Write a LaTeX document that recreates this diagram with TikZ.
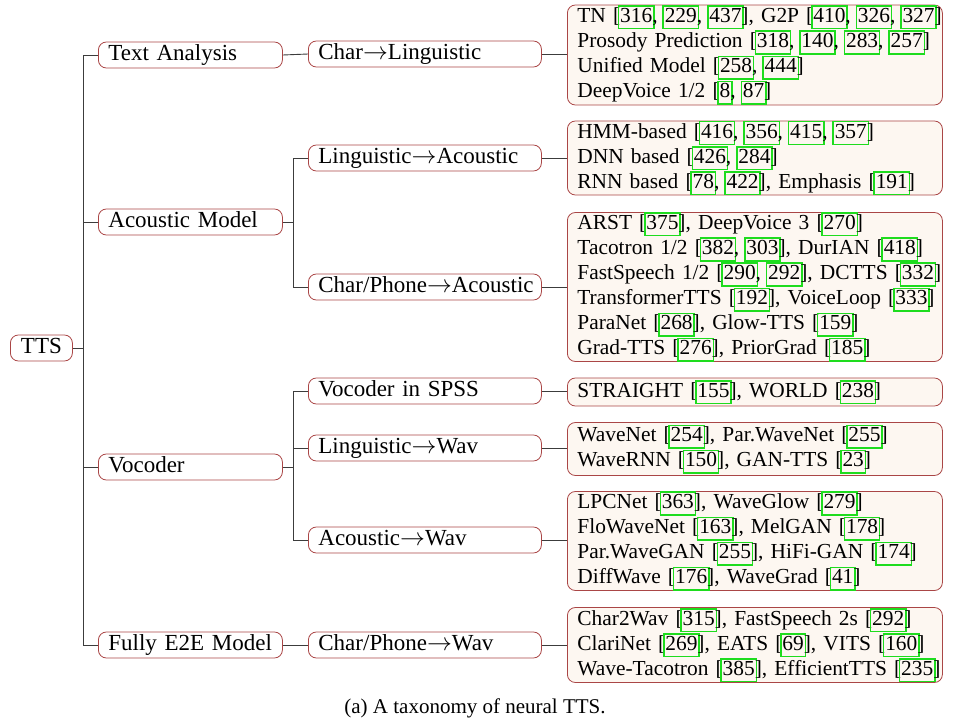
\documentclass[tikz,border=0pt]{standalone}
\usepackage{fontspec}
\setmainfont{Liberation Serif}
\definecolor{boxred}{RGB}{170,70,70}
\definecolor{leaffill}{RGB}{253,247,241}
\definecolor{citegreen}{RGB}{30,220,30}
\definecolor{linegray}{RGB}{60,60,60}
\newcommand\cc[1]{\begingroup\fboxsep=0.8pt\fboxrule=1.5pt%
\rlap{\kern-2.3pt\textcolor{citegreen}{\fbox{\phantom{#1}\vphantom{(}}}}#1\endgroup}
\hbadness=10000 \hfuzz=100pt
\begin{document}
\begin{tikzpicture}[x=1pt,y=-1pt,
  box/.style={draw=boxred, rounded corners=8pt, line width=0.8pt, fill=white,
    inner xsep=10pt, inner ysep=0pt, minimum height=26pt, anchor=west,
    font=\fontsize{23}{27}\selectfont, text height=15.5pt, text depth=5pt},
  lone/.style={box, text width=164pt, align=left},
  ltwo/.style={box, text width=213pt, align=left},
  leaf/.style={draw=boxred, fill=leaffill, rounded corners=8pt, line width=0.8pt,
    anchor=west, text width=355pt, inner xsep=10pt, inner ysep=0pt, align=left,
    font=\fontsize{21.4}{24}\selectfont},
  conn/.style={draw=linegray, line width=0.9pt}]
\useasboundingbox (0,0) rectangle (954,726);
\coordinate (trunk) at (83,0);
\coordinate (br) at (293,0);
% root
\node[box, minimum width=62pt, inner xsep=4pt, align=center] (tts) at (10,348) {TTS};
% level 1
\node[lone] (ta) at (98,55) {Text Analysis};
\node[lone] (am) at (98,222) {Acoustic Model};
\node[lone] (voc) at (98,467) {Vocoder};
\node[lone] (e2e) at (98,645) {Fully E2E Model};
% level 2
\node[ltwo] (cl) at (308,54) {Char$\rightarrow$Linguistic};
\node[ltwo] (la) at (308,158) {Linguistic$\rightarrow$Acoustic};
\node[ltwo] (ca) at (308,287) {Char/Phone$\rightarrow$Acoustic};
\node[ltwo] (vs) at (308,391) {Vocoder in SPSS};
\node[ltwo] (lw) at (308,448) {Linguistic$\rightarrow$Wav};
\node[ltwo] (aw) at (308,540) {Acoustic$\rightarrow$Wav};
\node[ltwo] (cw) at (308,645) {Char/Phone$\rightarrow$Wav};
% leaves
\node[leaf, minimum height=100pt] (f1) at (567,55) {\mbox{TN [\cc{316}, \cc{229}, \cc{437}], G2P [\cc{410}, \cc{326}, \cc{327}]}\\
\mbox{Prosody Prediction [\cc{318}, \cc{140}, \cc{283}, \cc{257}]}\\
\mbox{Unified Model [\cc{258}, \cc{444}]}\\
\mbox{DeepVoice 1/2 [\cc{8}, \cc{87}]}};
\node[leaf, minimum height=74pt] (f2) at (567,158) {\mbox{HMM-based [\cc{416}, \cc{356}, \cc{415}, \cc{357}]}\\
\mbox{DNN based [\cc{426}, \cc{284}]}\\
\mbox{RNN based [\cc{78}, \cc{422}], Emphasis [\cc{191}]}};
\node[leaf, minimum height=147pt] (f3) at (567,287) {\mbox{ARST [\cc{375}], DeepVoice 3 [\cc{270}]}\\
\mbox{Tacotron 1/2 [\cc{382}, \cc{303}], DurIAN [\cc{418}]}\\
\mbox{FastSpeech 1/2 [\cc{290}, \cc{292}], DCTTS [\cc{332}]}\\
\mbox{TransformerTTS [\cc{192}], VoiceLoop [\cc{333}]}\\
\mbox{ParaNet [\cc{268}], Glow-TTS [\cc{159}]}\\
\mbox{Grad-TTS [\cc{276}], PriorGrad [\cc{185}]}};
\node[leaf, minimum height=28pt] (f4) at (567,392) {\mbox{STRAIGHT [\cc{155}], WORLD [\cc{238}]}};
\node[leaf, minimum height=53pt] (f5) at (567,449) {\mbox{WaveNet [\cc{254}], Par.WaveNet [\cc{255}]}\\
\mbox{WaveRNN [\cc{150}], GAN-TTS [\cc{23}]}};
\node[leaf, minimum height=98pt] (f6) at (567,541) {\mbox{LPCNet [\cc{363}], WaveGlow [\cc{279}]}\\
\mbox{FloWaveNet [\cc{163}], MelGAN [\cc{178}]}\\
\mbox{Par.WaveGAN [\cc{255}], HiFi-GAN [\cc{174}]}\\
\mbox{DiffWave [\cc{176}], WaveGrad [\cc{41}]}};
\node[leaf, minimum height=75pt] (f7) at (567,645) {\mbox{Char2Wav [\cc{315}], FastSpeech 2s [\cc{292}]}\\
\mbox{ClariNet [\cc{269}], EATS [\cc{69}], VITS [\cc{160}]}\\
\mbox{Wave-Tacotron [\cc{385}], EfficientTTS [\cc{235}]}};
% caption
\node[font=\fontsize{21}{24}\selectfont] (cap) at (475,708) {(a) A taxonomy of neural TTS.};
% connectors: root
\draw[conn] (tts.east) -- (tts.east -| trunk);
\draw[conn] (ta.west) -- (ta.west -| trunk) -- (e2e.west -| trunk) -- (e2e.west);
\draw[conn] (am.west) -- (am.west -| trunk);
\draw[conn] (voc.west) -- (voc.west -| trunk);
% level 1 -> level 2
\draw[conn] (ta.east) -- (cl.west);
\draw[conn] (am.east) -- (am.east -| br);
\draw[conn] (la.west) -- (la.west -| br) -- (ca.west -| br) -- (ca.west);
\draw[conn] (voc.east) -- (voc.east -| br);
\draw[conn] (vs.west) -- (vs.west -| br) -- (aw.west -| br) -- (aw.west);
\draw[conn] (lw.west) -- (lw.west -| br);
\draw[conn] (e2e.east) -- (cw.west);
% level 2 -> leaves
\draw[conn] (cl.east) -- (cl.east -| f1.west);
\draw[conn] (la.east) -- (la.east -| f2.west);
\draw[conn] (ca.east) -- (ca.east -| f3.west);
\draw[conn] (vs.east) -- (vs.east -| f4.west);
\draw[conn] (lw.east) -- (lw.east -| f5.west);
\draw[conn] (aw.east) -- (aw.east -| f6.west);
\draw[conn] (cw.east) -- (cw.east -| f7.west);
\end{tikzpicture}
\end{document}
